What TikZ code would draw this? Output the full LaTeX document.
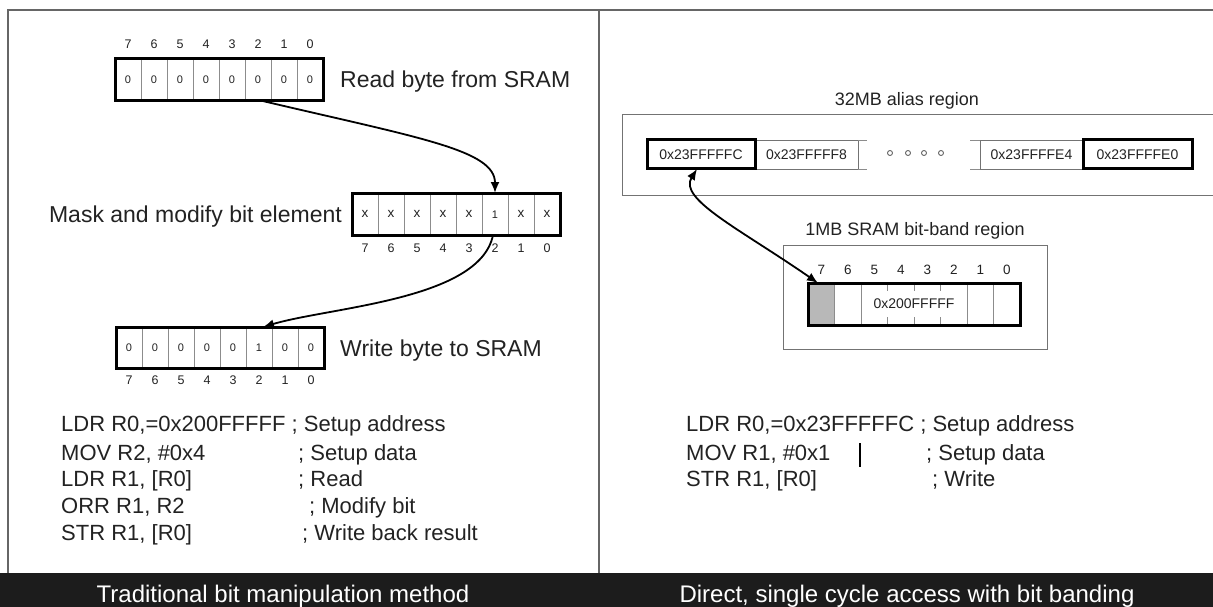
\documentclass[tikz,border=0pt]{standalone}
\usepackage{fontspec}
\setmainfont{Liberation Sans}
\usetikzlibrary{arrows.meta,calc,backgrounds}

\definecolor{inkgray}{HTML}{222222}
\definecolor{bargray}{HTML}{1C1C1C}

\tikzset{
  bytebox/.style={draw=black, line width=3pt, outer sep=0pt, inner sep=0pt,
                  minimum width=208pt, minimum height=42pt},
  celldiv/.style={draw=black!45, line width=0.8pt},
  bitval/.style={font=\fontsize{11}{11}\selectfont, text=inkgray, anchor=base, inner sep=0pt},
  bitx/.style={bitval, font=\fontsize{13.5}{14}\selectfont},
  bitnum/.style={font=\fontsize{12.5}{13}\selectfont, text=inkgray, anchor=base, inner sep=0pt},
  bandnum/.style={bitnum, font=\fontsize{13.5}{14}\selectfont},
  steplabel/.style={font=\fontsize{23}{24}\selectfont, text=inkgray, inner sep=0pt},
  regionlabel/.style={font=\fontsize{18}{20}\selectfont, text=inkgray, inner sep=0pt},
  codeline/.style={font=\fontsize{22}{24}\selectfont, text=inkgray, inner sep=0pt, anchor=base west},
  addrcell/.style={draw=black!55, line width=0.8pt, outer sep=0pt, inner sep=0pt,
                   minimum height=29pt, font=\fontsize{14}{14}\selectfont, text=inkgray},
  addrpick/.style={addrcell, draw=black, line width=3pt},
  regionbox/.style={draw=black!55, line width=0.8pt, outer sep=0pt},
  flow/.style={line width=1.8pt, -{Latex[length=11pt,width=9pt]}},
  bothflow/.style={line width=1.8pt, {Latex[length=11pt,width=9pt]}-{Latex[length=11pt,width=9pt]}},
  barlabel/.style={font=\fontsize{24}{26}\selectfont, text=white, inner sep=0pt},
}

\begin{document}
\begin{tikzpicture}[x=1pt, y=-1pt]
\useasboundingbox (0,0) rectangle (1213,607);

% frame and footer
\draw[black!60, line width=1.5pt] (8,573) -- (8,10) -- (1214,10);
\draw[black!60, line width=1.5pt] (599,10) -- (599,573);
\fill[bargray] (0,573) rectangle (1213,607);
\node[barlabel, anchor=base] (leftbar) at (283,602) {Traditional bit manipulation method};
\node[barlabel, anchor=base] (rightbar) at (907,602) {Direct, single cycle access with bit banding};

% ---- traditional method ----
\node[bytebox] (rd) at (219,80) {};
\node[bytebox] (mk) at (456,214) {};
\node[bytebox, minimum height=41pt] (wr) at (220,347.5) {};

\begin{scope}[on background layer]
\foreach \b in {rd,mk,wr}
  \foreach \k in {1,...,7}
    \draw[celldiv] ($(\b.north west)!\k/8!(\b.north east)$) -- ($(\b.south west)!\k/8!(\b.south east)$);
\end{scope}

\foreach \v [count=\k from 0] in {0,0,0,0,0,0,0,0}
  \node[bitval] at ($(rd.west)!\k/8+1/16!(rd.east)+(0,4)$) {\v};
\foreach \k in {0,1,2,3,4,6,7}
  \node[bitx] at ($(mk.west)!\k/8+1/16!(mk.east)+(0,3.6)$) {x};
\node[bitval] at ($(mk.west)!5/8+1/16!(mk.east)+(0,4)$) {1};
\foreach \v [count=\k from 0] in {0,0,0,0,0,1,0,0}
  \node[bitval] at ($(wr.west)!\k/8+1/16!(wr.east)+(0,4)$) {\v};

\foreach \n [count=\k from 0] in {7,...,0} {
  \node[bitnum] at ($(rd.north west)!\k/8+1/16!(rd.north east)+(0,-10)$) {\n};
  \node[bitnum] at ($(mk.south west)!\k/8+1/16!(mk.south east)+(0,17)$) {\n};
  \node[bitnum] at ($(wr.south west)!\k/8+1/16!(wr.south east)+(0,16)$) {\n};
}

\node[steplabel, anchor=base west] (rdlbl) at (340,88) {Read byte from SRAM};
\node[steplabel, anchor=base east] (mklbl) at (342,222) {Mask and modify bit element};
\node[steplabel, anchor=base west] (wrlbl) at (340,356) {Write byte to SRAM};

\coordinate (rdout) at ($(rd.south west)!0.71!(rd.south east)$);
\coordinate (mkin) at ($(mk.north west)!0.6875!(mk.north east)$);
\coordinate (mkout) at ($(mk.south west)!0.678!(mk.south east)$);
\coordinate (wrin) at ($(wr.north west)!0.707!(wr.north east)$);
\draw[flow] (rdout) .. controls +(157,37) and +(0,-43) .. (mkin);
\draw[flow] (mkout) .. controls +(-13,65) and +(67,-20) .. (wrin);

\node[codeline] (l1) at (61,431) {LDR R0,=0x200FFFFF ; Setup address};
\node[codeline] (l2) at (61,460) {MOV R2, \#0x4};
\node[codeline] (c2) at (298,460) {; Setup data};
\node[codeline] (l3) at (61,486) {LDR R1, [R0]};
\node[codeline] (c3) at (298,486) {; Read};
\node[codeline] (l4) at (61,513) {ORR R1, R2};
\node[codeline] (c4) at (309,513) {; Modify bit};
\node[codeline] (l5) at (61,540) {STR R1, [R0]};
\node[codeline] (c5) at (302,540) {; Write back result};

% ---- bit banding ----
\node[regionlabel] (aliaslbl) at (907,101) {32MB alias region};
\node[regionbox, minimum width=604pt, minimum height=81pt] (alias) at (924,154.5) {};
\node[addrcell, minimum width=103pt] (a1) at (806.5,154.5) {0x23FFFFF8};
\node[addrcell, minimum width=103pt] (a2) at (1031.5,154.5) {0x23FFFFE4};
\node[addrpick, minimum width=108pt] (a0) at (701,154.5) {0x23FFFFFC};
\node[addrpick, minimum width=109pt] (a3) at (1137.5,154.5) {0x23FFFFE0};
\draw[celldiv] (a1.north east) -- +(9,0) (a1.south east) -- +(9,0);
\draw[celldiv] (a2.north west) -- +(-10,0) (a2.south west) -- +(-10,0);
\foreach \x in {890,908,924,941}
  \draw[black!60, line width=0.9pt] (\x,153) circle (2.5pt);

\node[regionlabel] (bandlbl) at (915,231) {1MB SRAM bit-band region};
\node[regionbox, minimum width=264pt, minimum height=104pt] (band) at (915,297) {};
\node[bytebox, minimum width=212pt, font=\fontsize{14}{14}\selectfont, text=inkgray] (bb) at (914,304) {0x200FFFFF};
\begin{scope}[on background layer]
  \fill[black!28] (bb.north west) rectangle ($(bb.south west)!0.125!(bb.south east)$);
  \foreach \k in {1,2,6,7}
    \draw[celldiv] ($(bb.north west)!\k/8!(bb.north east)$) -- ($(bb.south west)!\k/8!(bb.south east)$);
  \foreach \k in {3,4,5} {
    \draw[celldiv] ($(bb.north west)!\k/8!(bb.north east)$) -- +(0,8);
    \draw[celldiv] ($(bb.south west)!\k/8!(bb.south east)$) -- +(0,-8);
  }
\end{scope}
\foreach \n [count=\k from 0] in {7,...,0}
  \node[bandnum] at ($(bb.north west)!\k/8+1/16!(bb.north east)+(0,-9)$) {\n};

\coordinate (a0out) at ($(a0.south west)!0.463!(a0.south east)$);
\coordinate (bbin) at ($(bb.north west)!0.047!(bb.north east)$);
\draw[bothflow] (a0out) .. controls +(-19,30) and +(-78,-54) .. (bbin);

\node[codeline] (r1) at (686,431) {LDR R0,=0x23FFFFFC ; Setup address};
\node[codeline] (r2) at (686,460) {MOV R1, \#0x1};
\node[codeline] (s2) at (926,460) {; Setup data};
\node[codeline] (r3) at (686,486) {STR R1, [R0]};
\node[codeline] (s3) at (932,486) {; Write};
\draw[black, line width=1.5pt] (860,443) -- (860,467);

\end{tikzpicture}
\end{document}
